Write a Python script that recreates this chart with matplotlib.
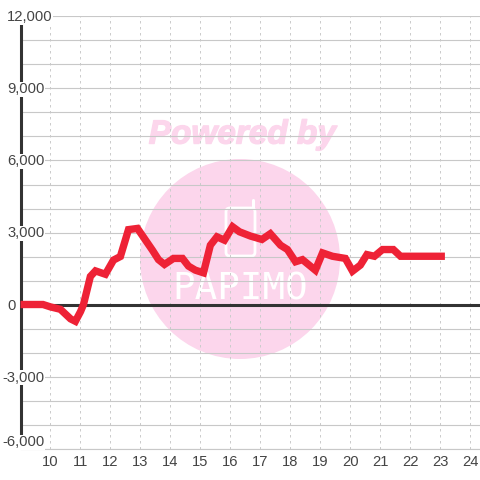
import matplotlib
matplotlib.use("Agg")
import matplotlib.pyplot as plt
import matplotlib.patheffects as pe
from matplotlib.patches import Circle, FancyBboxPatch

# === Datos ===
horas = [9.0, 9.75, 10.0, 10.33, 10.67, 10.83, 11.0, 11.1, 11.33, 11.5, 11.83, 12.1, 12.33,
         12.6, 12.9, 13.4, 13.6, 13.8, 14.1, 14.4, 14.6, 14.83, 15.1, 15.33, 15.55, 15.8,
         16.07, 16.3, 16.67, 17.05, 17.33, 17.67, 17.9, 18.17, 18.4, 18.83, 19.07, 19.4,
         19.83, 20.07, 20.33, 20.55, 20.8, 21.07, 21.43, 21.67, 23.15]
valores = [0, 0, -100, -200, -600, -700, -300, 0, 1170, 1400, 1260, 1850, 2000,
           3120, 3170, 2260, 1870, 1670, 1920, 1920, 1600, 1430, 1320, 2470, 2820, 2680,
           3240, 3030, 2850, 2710, 2950, 2470, 2290, 1780, 1870, 1430, 2150, 2010,
           1920, 1390, 1640, 2080, 2010, 2290, 2290, 2010, 2010]
x_ticks = list(range(10, 25))
y_grid = list(range(-6000, 12001, 1000))
y_labels = [12000, 9000, 6000, 3000, 0, -3000, -6000]

ROJO = "#ee2236"
ROSA = "#fcd6ec"
OSCURO = "#333333"
GRIS = "#c8c8c8"
TEXTO = "#444444"

plt.rcParams["font.family"] = ["Liberation Sans", "DejaVu Sans"]

fig = plt.figure(figsize=(4.8, 4.8), dpi=100)
ax = fig.add_axes([20.5 / 480, 31.5 / 480, 459.5 / 480, 432 / 480])
ax.set_xlim(9, 24.32)
ax.set_ylim(-6000, 12000)
ax.set_axisbelow(True)

# === Marca de agua ===
ax.add_patch(Circle((240 / 480, 1 - 259 / 480), 100 / 480, transform=fig.transFigure,
                    fc=ROSA, ec="none", zorder=0.1))
fig_txt = dict(transform=fig.transFigure, zorder=0.2, ha="center", va="center")
ax.text(242.5 / 480, 1 - 135 / 480, "Powered by", color=ROSA, fontsize=24,
        fontweight="bold", fontstyle="italic",
        path_effects=[pe.withStroke(linewidth=1.0, foreground=ROSA)], **fig_txt)
ax.text(240 / 480, 1 - 289 / 480, "PAPIMO", color="white", fontsize=27,
        family="DejaVu Sans Mono", **fig_txt)
ax.add_patch(FancyBboxPatch((226 / 480, 1 - 256 / 480), 29 / 480, 48 / 480,
                            boxstyle="round,pad=0,rounding_size=0.008", transform=fig.transFigure,
                            fc="none", ec="white", lw=2, zorder=0.2))
ax.plot([253 / 480, 253 / 480], [1 - 208 / 480, 1 - 200 / 480], transform=fig.transFigure,
        color="white", lw=2.2, solid_capstyle="round", zorder=0.2)

# === Ejes y rejilla ===
ax.set_xticks(x_ticks)
ax.set_yticks(y_grid)
ax.tick_params(length=0)
ax.set_yticklabels([])
ax.set_xticklabels([str(h) for h in x_ticks], fontsize=10.6, color=TEXTO)
ax.tick_params(axis="x", pad=5)
ax.grid(True, axis="y", color=GRIS, lw=0.8)
ax.grid(True, axis="x", color="#cccccc", lw=0.72, ls=(0, (2.5, 3.5)))

for lado in ["top", "right"]:
    ax.spines[lado].set_visible(False)
ax.spines["left"].set_color(OSCURO)
ax.spines["left"].set_linewidth(2.2)
ax.spines["left"].set_bounds(-5500, 12000)
ax.spines["bottom"].set_color(GRIS)
ax.spines["bottom"].set_linewidth(0.8)
ax.axhline(0, color=OSCURO, lw=2.2, zorder=2)

# Etiquetas de y con fondo blanco, cortan el eje y la rejilla
for v in y_labels:
    offset_x = -13.5 if v >= 0 else -18
    offset_y = -1
    if v == -6000:
        offset_y = 6
    ax.annotate(f"{v:,}", (9, v), xytext=(offset_x * 0.72, offset_y * 0.72),
                textcoords="offset points", ha="left", va="center",
                fontsize=10.6, color=TEXTO, zorder=3, annotation_clip=False,
                bbox=dict(fc="white", ec="none", pad=0.2))

# === Serie ===
ax.plot(horas, valores, color=ROJO, lw=5.3, zorder=4, solid_joinstyle="miter",
        solid_capstyle="butt", clip_on=False)

fig.savefig("out.png", dpi=100)
